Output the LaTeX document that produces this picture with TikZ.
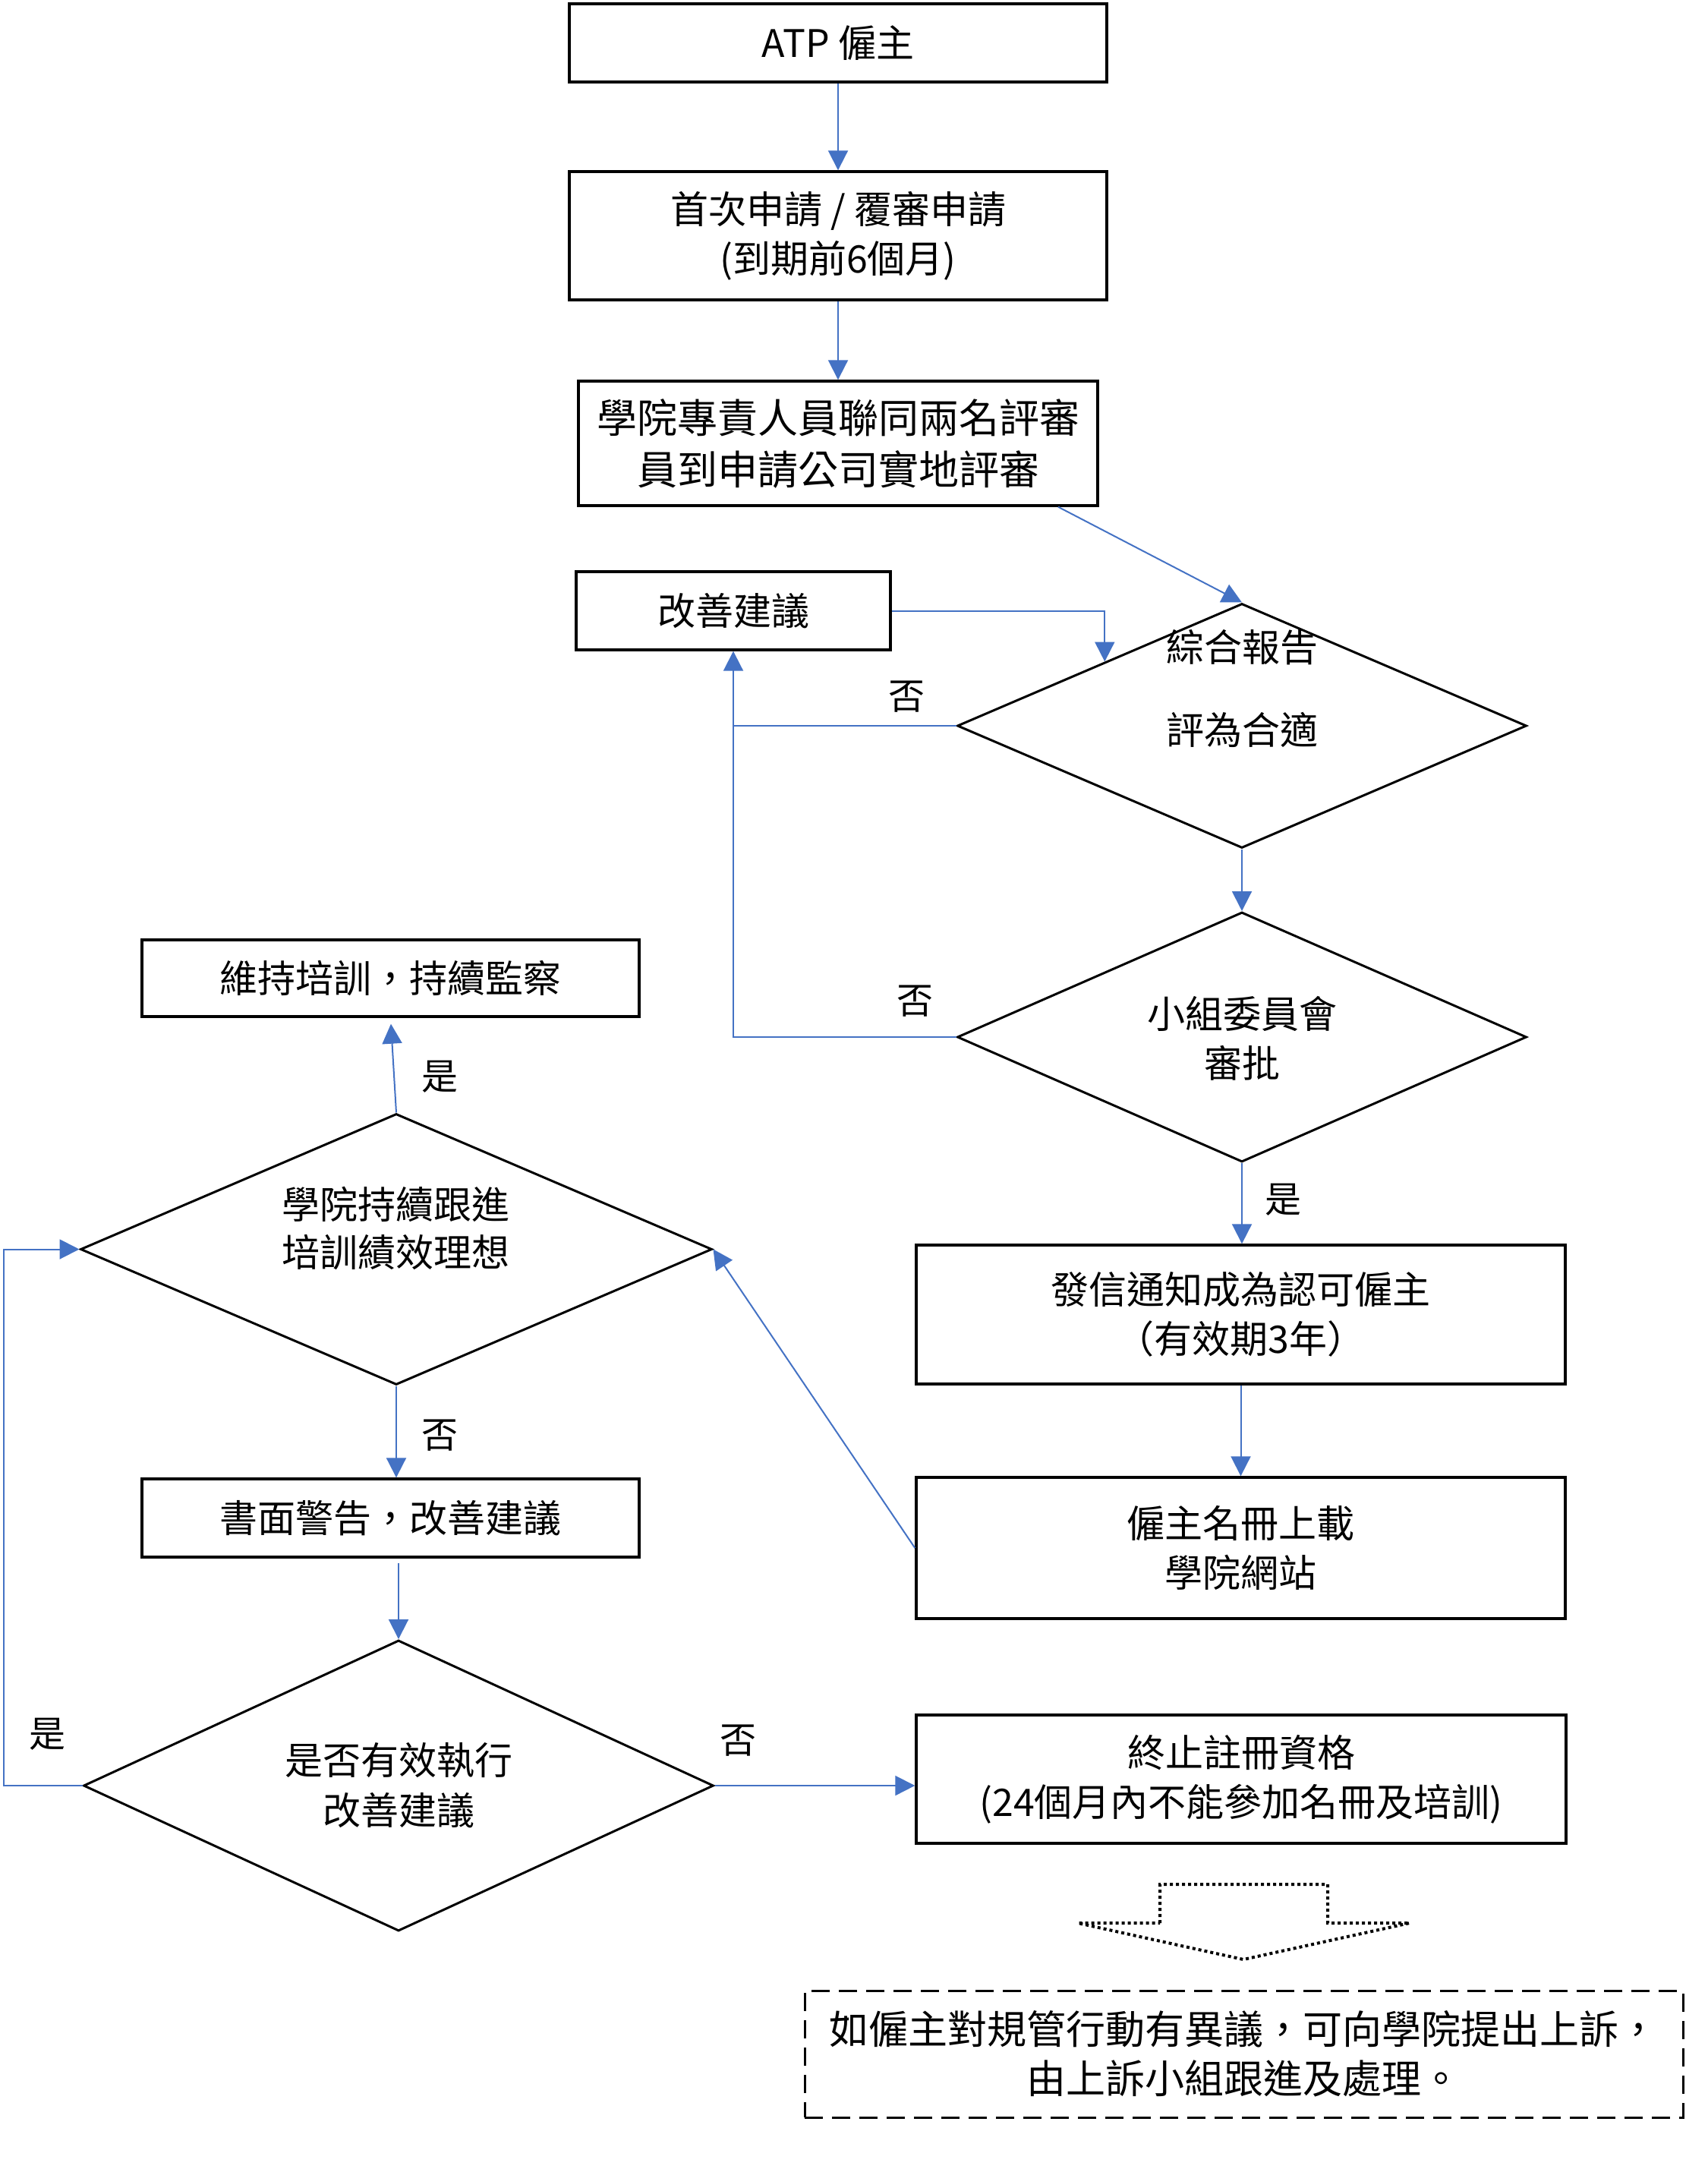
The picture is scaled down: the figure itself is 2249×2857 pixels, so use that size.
\documentclass[tikz,border=0pt]{standalone}
\usepackage{fontspec}
\setmainfont{Noto Sans CJK TC}
\usetikzlibrary{shapes.geometric,arrows.meta,calc}
\definecolor{conn}{HTML}{4472C4}
\tikzset{
 box/.style={draw=black, line width=0.85pt, rectangle, inner sep=0pt, align=center, font=\fontsize{12.5}{16.25}\selectfont},
 dia/.style={draw=black, line width=0.75pt, diamond, inner sep=0pt},
 txt/.style={inner sep=0pt, font=\fontsize{12.5}{16}\selectfont},
 lab/.style={inner sep=0pt, font=\fontsize{12}{14}\selectfont},
 arr/.style={draw=conn, line width=0.5pt, -{Triangle[length=6.5pt,width=6.5pt]}},
 ln/.style={draw=conn, line width=0.5pt},
}
\begin{document}
\begin{tikzpicture}[x=0.25pt,y=-0.25pt]
\useasboundingbox (0,0) rectangle (2249,2857);
% boxes
\node[box, minimum width=177pt, minimum height=25.75pt] (atp) at (1104,56.5) {ATP 僱主};
\node[box, minimum width=177pt, minimum height=42.25pt] (apply) at (1104,310.5) {首次申請 / 覆審申請\\(到期前6個月)};
\node[box, minimum width=171pt, minimum height=41pt, font=\fontsize{13.25}{17}\selectfont] (visit) at (1104,584) {學院專責人員聯同兩名評審\\員到申請公司實地評審};
\node[box, minimum width=103.5pt, minimum height=25.75pt] (improve) at (966,804.5) {改善建議};
\node[dia, minimum width=187.5pt, minimum height=80.5pt] (d1) at (1636,956) {};
\node[txt] at (1636,853) {綜合報告};
\node[txt] at (1636,961) {評為合適};
\node[dia, minimum width=187.5pt, minimum height=82.25pt] (d2) at (1636,1366) {};
\node[txt] at (1636,1335) {小組委員會};
\node[txt] at (1636,1400) {審批};
\node[box, minimum width=163.75pt, minimum height=25.25pt] (maintain) at (514.5,1288.5) {維持培訓，持續監察};
\node[dia, minimum width=208pt, minimum height=89.25pt] (d3) at (522,1645.5) {};
\node[txt] at (521,1586) {學院持續跟進};
\node[txt] at (521,1649) {培訓績效理想};
\node[box, minimum width=213.75pt, minimum height=45.75pt] (notify) at (1634.5,1731.5) {發信通知成為認可僱主\\（有效期3年）};
\node[box, minimum width=213.75pt, minimum height=46.5pt] (list) at (1634.5,2039) {僱主名冊上載\\學院網站};
\node[box, minimum width=163.75pt, minimum height=25.75pt] (warn) at (514.5,1999.5) {書面警告，改善建議};
\node[dia, minimum width=207.5pt, minimum height=95.75pt] (d4) at (525,2352) {};
\node[txt] at (525,2319) {是否有效執行};
\node[txt] at (525,2385) {改善建議};
\node[box, minimum width=214pt, minimum height=42.25pt] (term) at (1635,2343.5) {終止註冊資格\\(24個月內不能參加名冊及培訓)};
\node[box, dash pattern=on 6pt off 3pt, line width=0.75pt, minimum width=289.25pt, minimum height=41.75pt, font=\fontsize{13}{16.25}\selectfont] (appeal) at (1638.5,2705.5) {如僱主對規管行動有異議，可向學院提出上訴，\\由上訴小組跟進及處理。};
% dotted down arrow shape
\draw[line width=1pt, dash pattern=on 1pt off 1pt] (1528,2533) -- (1528,2482) -- (1749,2482) -- (1749,2533) -- (1857,2533) -- (1638,2581) -- (1420,2533) -- cycle;
% connectors
\draw[arr] (atp.south) -- (apply.north);
\draw[arr] (apply.south) -- (visit.north);
\draw[arr] ([xshift=72.5pt]visit.south) -- (d1.north);
\draw[arr] (improve.east) -| ($(d1.west)!0.52!(d1.north)$);
\draw[arr] (d1.west) -| (improve.south);
\draw[ln] (d2.west) -| (d1.west -| improve.south);
\draw[arr] (d1.south) -- (d2.north);
\draw[arr] (d2.south) -- (d2.south |- notify.north);
\draw[arr] (notify.south) -- (list.north);
\draw[arr] (list.west) -- (d3.east);
\draw[arr, shorten >=2pt] (d3.north) -- (maintain.south);
\draw[arr] (d3.south) -- (d3.south |- warn.north);
\draw[arr, shorten <=1.5pt] (d4.north |- warn.south) -- (d4.north);
\coordinate (loopL) at (5,2352);
\draw[arr] (d4.west) -- (loopL) |- (d3.west);
\draw[arr] (d4.east) -- (d4.east -| term.west);
% labels
\node[lab] at (1194,918) {否};
\node[lab] at (1205,1319) {否};
\node[lab] at (1690,1580) {是};
\node[lab] at (579,1418) {是};
\node[lab] at (579,1891) {否};
\node[lab] at (62,2284) {是};
\node[lab] at (972,2293) {否};
\end{tikzpicture}
\end{document}
